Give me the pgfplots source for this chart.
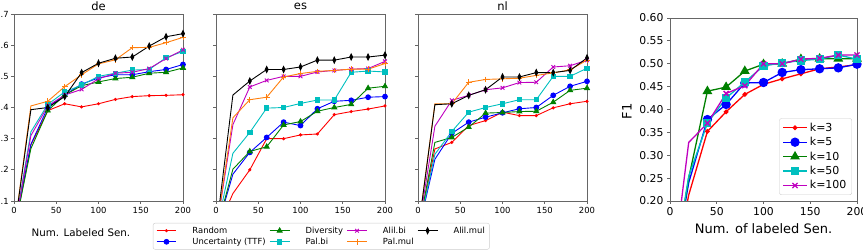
\documentclass[border=0pt]{standalone}
\usepackage{fontspec}
\setmainfont{DejaVu Sans}
\usepackage{pgfplots}
\pgfplotsset{compat=1.18}
\usepackage{pgfplotstable}

\definecolor{mplred}{rgb}{1,0,0}
\definecolor{mplblue}{rgb}{0,0,1}
\definecolor{mplgreen}{rgb}{0,0.5,0}
\definecolor{mplcyan}{rgb}{0,0.75,0.75}
\definecolor{mplmag}{rgb}{0.75,0,0.75}
\definecolor{mplorange}{rgb}{1,0.498,0.055}

\pgfplotstableread{
x   rand  unc   div   palbi alilbi palmul alilmul
0   0     0     0     0     0      0      0
20  0.28  0.282 0.268 0.322 0.31   0.405  0.393
40  0.39  0.40  0.39  0.41  0.405  0.42   0.40
60  0.412 0.44  0.44  0.45  0.44   0.467  0.435
80  0.402 0.475 0.47  0.472 0.458  0.505  0.512
100 0.412 0.495 0.482 0.50  0.492  0.54   0.542
120 0.426 0.505 0.493 0.51  0.51   0.553  0.558
140 0.435 0.505 0.497 0.52  0.513  0.592  0.562
160 0.438 0.515 0.51  0.522 0.525  0.593  0.597
180 0.439 0.522 0.513 0.56  0.557  0.608  0.627
200 0.441 0.538 0.527 0.58  0.585  0.625  0.637
}\dedata

\pgfplotstableread{
x   rand  unc   div   palbi alilbi palmul alilmul
0   0     0     0     0     0      0      0
20  0.124 0.186 0.202 0.253 0.345 0.367 0.44
40  0.20  0.256 0.259 0.32  0.466 0.425 0.485
60  0.30  0.304 0.274 0.398 0.487 0.433 0.522
80  0.30  0.353 0.344 0.40  0.50  0.498 0.522
100 0.312 0.342 0.355 0.413 0.50  0.509 0.53
120 0.315 0.396 0.388 0.424 0.514 0.516 0.552
140 0.377 0.42  0.40  0.424 0.519 0.519 0.552
160 0.387 0.423 0.41  0.513 0.523 0.523 0.562
180 0.395 0.433 0.462 0.517 0.525 0.523 0.562
200 0.405 0.435 0.468 0.514 0.548 0.541 0.568
}\esdata

\pgfplotstableread{
x   rand  unc   div   palbi alilbi palmul alilmul
0   0     0     0     0     0      0      0
20  0.267 0.234 0.288 0.25  0.34  0.412 0.409
40  0.288 0.317 0.304 0.323 0.423 0.412 0.412
60  0.342 0.353 0.337 0.385 0.439 0.481 0.439
80  0.358 0.369 0.382 0.40  0.457 0.49  0.457
100 0.385 0.383 0.384 0.412 0.463 0.492 0.498
120 0.374 0.396 0.387 0.425 0.48  0.494 0.498
140 0.374 0.40  0.388 0.425 0.481 0.503 0.512
160 0.399 0.439 0.417 0.50  0.53  0.511 0.512
180 0.412 0.468 0.455 0.50  0.534 0.521 0.519
200 0.42  0.484 0.462 0.526 0.552 0.552 0.559
}\nldata

\pgfplotstableread{
x   k3    k5    k10   k50   k100
0   0     0     0     0     0
20  0.213 0.24  0.25  0.254 0.328
40  0.352 0.378 0.44  0.37  0.37
60  0.395 0.411 0.449 0.425 0.435
80  0.433 0.458 0.484 0.46  0.452
100 0.455 0.459 0.499 0.495 0.50
120 0.467 0.481 0.50  0.502 0.50
140 0.478 0.487 0.51  0.507 0.51
160 0.489 0.489 0.511 0.51  0.512
180 0.493 0.491 0.511 0.519 0.519
200 0.498 0.499 0.511 0.51  0.519
}\kdata

\pgfplotsset{
  sty rand/.style={mplred, line width=0.9bp, mark=*, mark size=1.1bp},
  sty unc/.style={mplblue, line width=0.9bp, mark=*, mark size=2.4bp},
  sty div/.style={mplgreen, line width=0.9bp, mark=triangle*, mark size=2.8bp},
  sty palbi/.style={mplcyan, line width=0.9bp, mark=square*, mark size=2.2bp},
  sty alilbi/.style={mplmag, line width=0.9bp, mark=x, mark size=2.6bp},
  sty palmul/.style={mplorange, line width=0.9bp, mark=+, mark size=2.8bp},
  sty alilmul/.style={black, line width=0.9bp, mark=diamond*, mark size=3bp, mark options={xscale=0.65}},
  common/.style={
    scale only axis, anchor=south west,
    xmin=0, xmax=200, xtick={0,50,100,150,200},
    tick align=outside, tick pos=left, major tick length=3bp,
    axis line style={black!60, line width=0.8bp},
    every tick/.style={black!60, line width=0.8bp},
    /pgf/number format/assume math mode=true,
    clip=true,
  },
  leftpanel/.style={
    common, width=169bp, height=187bp,
    ymin=0.1, ymax=0.7, ytick={0.1,0.2,0.3,0.4,0.5,0.6,0.7},
    yticklabels={.1,.2,.3,.4,.5,.6,.7},
    tick label style={font=\fontsize{8.4bp}{10bp}\selectfont},
    title style={font=\fontsize{11.5bp}{13bp}\selectfont, at={(0.5,1)}, anchor=center, yshift=2bp},
    every axis plot/.append style={mark phase=2},
  },
}

\begin{document}
\begin{tikzpicture}
\path[use as bounding box] (0,0) rectangle (863bp,252bp);
\clip (0,0) rectangle (863bp,252bp);

% ---------------- de ----------------
\begin{axis}[leftpanel, at={(14bp,51bp)}, title={de},
  yticklabel style={xshift=1.2bp},
  xlabel={Num. Labeled Sen.},
  xlabel style={font=\fontsize{10.3bp}{12bp}\selectfont, at={(0.396,-0.171)}, anchor=center},
  legend columns=4, legend cell align=left,
  legend image code/.code={\draw[mark repeat=2,mark phase=2] plot coordinates {(0cm,0cm) (0.35cm,0cm) (0.7cm,0cm)};},
  legend style={at={(0.822,-0.1176)}, anchor=north west,
    font=\fontsize{8.4bp}{10bp}\selectfont, draw=black!20, rounded corners=2bp,
    nodes={inner sep=1.6bp},
    /tikz/every odd column/.append style={column sep=14bp},
    /tikz/every even column/.append style={column sep=2bp}},
]
\addlegendimage{sty rand}\addlegendentry{Random}
\addlegendimage{sty div}\addlegendentry{Diversity}
\addlegendimage{sty alilbi}\addlegendentry{Alil.bi}
\addlegendimage{sty alilmul}\addlegendentry{Alil.mul}
\addlegendimage{sty unc}\addlegendentry{Uncertainty (TTF)}
\addlegendimage{sty palbi}\addlegendentry{Pal.bi}
\addlegendimage{sty palmul}\addlegendentry{Pal.mul}
\addplot[sty rand] table[x=x,y=rand]{\dedata};
\addplot[sty unc] table[x=x,y=unc]{\dedata};
\addplot[sty div] table[x=x,y=div]{\dedata};
\addplot[sty palbi] table[x=x,y=palbi]{\dedata};
\addplot[sty alilbi] table[x=x,y=alilbi]{\dedata};
\addplot[sty palmul] table[x=x,y=palmul]{\dedata};
\addplot[sty alilmul] table[x=x,y=alilmul]{\dedata};
\end{axis}

% ---------------- es ----------------
\begin{axis}[leftpanel, at={(216bp,51bp)}, title={es}, yticklabels={}]
\addplot[sty rand] table[x=x,y=rand]{\esdata};
\addplot[sty unc] table[x=x,y=unc]{\esdata};
\addplot[sty div] table[x=x,y=div]{\esdata};
\addplot[sty palbi] table[x=x,y=palbi]{\esdata};
\addplot[sty alilbi] table[x=x,y=alilbi]{\esdata};
\addplot[sty palmul] table[x=x,y=palmul]{\esdata};
\addplot[sty alilmul] table[x=x,y=alilmul]{\esdata};
\end{axis}

% ---------------- nl ----------------
\begin{axis}[leftpanel, at={(418bp,51bp)}, title={nl}, yticklabels={}]
\addplot[sty rand] table[x=x,y=rand]{\nldata};
\addplot[sty unc] table[x=x,y=unc]{\nldata};
\addplot[sty div] table[x=x,y=div]{\nldata};
\addplot[sty palbi] table[x=x,y=palbi]{\nldata};
\addplot[sty alilbi] table[x=x,y=alilbi]{\nldata};
\addplot[sty palmul] table[x=x,y=palmul]{\nldata};
\addplot[sty alilmul] table[x=x,y=alilmul]{\nldata};
\end{axis}

% ---------------- k panel ----------------
\begin{axis}[common, at={(670bp,51bp)}, width=187bp, height=183bp,
  ymin=0.2, ymax=0.6, ytick={0.2,0.25,0.3,0.35,0.4,0.45,0.5,0.55,0.6},
  yticklabel style={/pgf/number format/.cd, fixed, fixed zerofill, precision=2},
  tick label style={font=\fontsize{10.8bp}{12bp}\selectfont},
  xlabel={Num. of labeled Sen.}, ylabel={F1},
  label style={font=\fontsize{13bp}{15bp}\selectfont},
  xlabel style={at={(0.5,-0.153)}, anchor=center},
  ylabel style={at={(-0.23,0.49)}, anchor=center},
  every axis plot/.append style={mark phase=2, line width=1.3bp},
  legend cell align=left,
  legend image code/.code={\draw[mark repeat=2,mark phase=2] plot coordinates {(0cm,0cm) (0.42cm,0cm) (0.84cm,0cm)};},
  legend style={at={(0.973,0.033)}, anchor=south east,
    font=\fontsize{11bp}{13bp}\selectfont, draw=black!20, rounded corners=2bp,
    nodes={inner sep=2.3bp}},
]
\addplot[mplred, mark=*, mark size=1.7bp] table[x=x,y=k3]{\kdata};
\addlegendentry{k=3}
\addplot[mplblue, mark=*, mark size=4bp] table[x=x,y=k5]{\kdata};
\addlegendentry{k=5}
\addplot[mplgreen, mark=triangle*, mark size=4.4bp] table[x=x,y=k10]{\kdata};
\addlegendentry{k=10}
\addplot[mplcyan, mark=square*, mark size=3.4bp] table[x=x,y=k50]{\kdata};
\addlegendentry{k=50}
\addplot[mplmag, mark=x, mark size=3.6bp] table[x=x,y=k100]{\kdata};
\addlegendentry{k=100}
\end{axis}
\end{tikzpicture}
\end{document}
